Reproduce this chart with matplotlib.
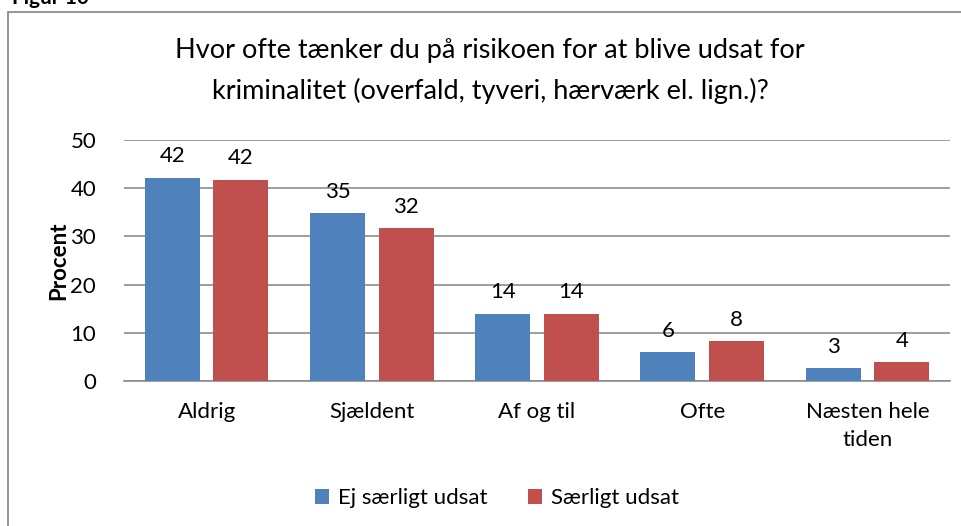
import matplotlib
matplotlib.use("Agg")
import matplotlib.pyplot as plt
import numpy as np
from matplotlib.patches import Rectangle

categories = ["Aldrig", "Sjældent", "Af og til", "Ofte", "Næsten hele\ntiden"]
ej_saerligt = [42.2, 34.9, 14.0, 6.0, 2.6]
saerligt = [41.8, 31.7, 14.0, 8.3, 3.9]
ej_labels = ["42", "35", "14", "6", "3"]
saer_labels = ["42", "32", "14", "8", "4"]
series_names = ["Ej særligt udsat", "Særligt udsat"]
title = "Hvor ofte tænker du på risikoen for at blive udsat for\nkriminalitet (overfald, tyveri, hærværk el. lign.)?"
yticks = [0, 10, 20, 30, 40, 50]

plt.rcParams['font.family'] = ['Lato', 'DejaVu Sans']
W, H = 962, 526
fig = plt.figure(figsize=(W / 100, H / 100), dpi=100)

# outer chart border
fig.patches.append(Rectangle((8 / W, -0.1), 1.2, 1 - 12 / H + 0.1, transform=fig.transFigure,
                             fill=False, edgecolor="#8c8c8c", linewidth=1.3))
fig.text(12 / W, 1 + 2 / H, "Figur 10", fontsize=15, fontweight="bold", ha="left", va="center")

ax = fig.add_axes([124 / W, 1 - 381 / H, (950 - 124) / W, (381 - 140) / H])
x = np.arange(len(categories))
w = 0.333
off = 0.208
fs = 16
b1 = ax.bar(x - off, ej_saerligt, w, color="#4F81BD", label=series_names[0], zorder=3)
b2 = ax.bar(x + off, saerligt, w, color="#C0504D", label=series_names[1], zorder=3)
for bars, labs in ((b1, ej_labels), (b2, saer_labels)):
    for b, t in zip(bars, labs):
        ax.annotate(t, (b.get_x() + b.get_width() / 2, b.get_height()), xytext=(0, 8),
                    textcoords="offset points", ha="center", va="bottom", fontsize=fs)

ax.set_xlim(-0.5, len(categories) - 0.5)
ax.set_ylim(0, 50)
ax.set_yticks(yticks)
ax.yaxis.grid(True, color="#8c8c8c", linewidth=1.2, zorder=0)
ax.set_axisbelow(True)
for s in ("top", "right", "left"):
    ax.spines[s].set_visible(False)
ax.spines["bottom"].set_color("#8c8c8c")
ax.spines["bottom"].set_linewidth(1.2)
ax.tick_params(axis="y", length=0, pad=20, labelsize=fs)
ax.tick_params(axis="x", length=0, pad=15, labelsize=fs)
ax.set_xticks(x)
ax.set_xticklabels(categories, linespacing=1.5)
ax.set_ylabel("Procent", fontsize=fs, fontweight="bold", labelpad=1)

fig.text(490 / W, 1 - 71 / H, title, ha="center", va="center", fontsize=19.5, linespacing=1.7)

fig.legend(handles=[b1, b2], loc="center", bbox_to_anchor=(497 / W, 1 - 498 / H), ncol=2,
           frameon=False, fontsize=fs, handlelength=0.65, handleheight=0.65,
           handletextpad=0.4, columnspacing=1.8)

fig.savefig("out.png", dpi=100)
